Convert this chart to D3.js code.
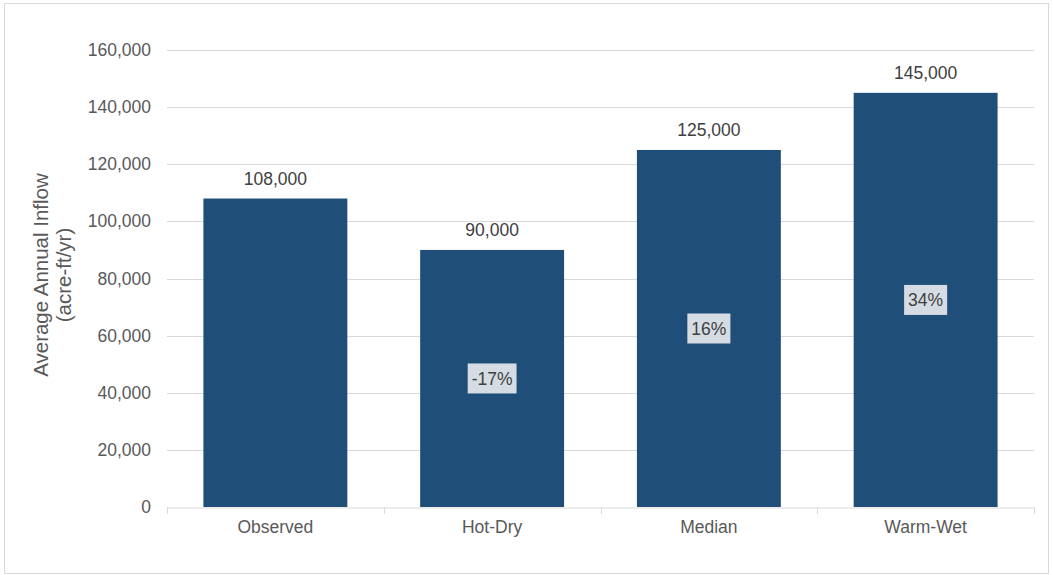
<!DOCTYPE html>
<html>
<head>
<meta charset="utf-8">
<script src="https://cdn.jsdelivr.net/npm/d3@7"></script>
<style>
  body { margin: 0; background: #fff; }
  svg { display: block; font-family: "Liberation Sans", Arial, sans-serif; }
</style>
</head>
<body>
<div id="chart"></div>
<script>
const categories = ["Observed", "Hot-Dry", "Median", "Warm-Wet"];
const inflow = [108000, 90000, 125000, 145000];
const changeLabels = [null, "-17%", "16%", "34%"];
const yTicks = [0, 20000, 40000, 60000, 80000, 100000, 120000, 140000, 160000];

const width = 1053, height = 575;
const margin = { top: 50, right: 19, bottom: 68, left: 167 };

const svg = d3.select("#chart").append("svg")
  .attr("width", width)
  .attr("height", height);

// outer frame
svg.append("rect")
  .attr("x", 4.5).attr("y", 3.5)
  .attr("width", 1044).attr("height", 570)
  .attr("fill", "#fff")
  .attr("stroke", "#d9d9d9");

const x = d3.scaleBand()
  .domain(categories)
  .range([margin.left, width - margin.right])
  .paddingInner(0.336)
  .paddingOuter(0.168);

const y = d3.scaleLinear()
  .domain([0, 160000])
  .range([height - margin.bottom, margin.top]);

const fmt = d3.format(",");

// gridlines
svg.append("g")
  .selectAll("line")
  .data(yTicks.filter(d => d > 0))
  .join("line")
  .attr("x1", margin.left).attr("x2", width - margin.right)
  .attr("y1", d => Math.round(y(d)) + 0.5).attr("y2", d => Math.round(y(d)) + 0.5)
  .attr("stroke", "#d9d9d9");

// y axis labels
const yAxis = svg.append("g")
  .attr("transform", `translate(${margin.left},0)`)
  .call(d3.axisLeft(y).tickValues(yTicks).tickFormat(fmt).tickSize(0).tickPadding(16));
yAxis.select(".domain").remove();
yAxis.selectAll("text")
  .attr("fill", "#595959")
  .style("font-size", "17.5px")
  .style("font-family", "Liberation Sans, Arial, sans-serif");

// bars
svg.append("g")
  .selectAll("rect")
  .data(categories)
  .join("rect")
  .attr("x", d => x(d))
  .attr("width", x.bandwidth())
  .attr("y", (d, i) => y(inflow[i]))
  .attr("height", (d, i) => y(0) - y(inflow[i]))
  .attr("fill", "#1f4e79");

// x axis
const xAxis = svg.append("g")
  .attr("transform", `translate(0,${Math.round(y(0)) + 0.5})`)
  .call(d3.axisBottom(x).tickSize(0).tickPadding(13));
xAxis.select(".domain").attr("stroke", "#d9d9d9");
xAxis.selectAll("text")
  .attr("fill", "#595959")
  .style("font-size", "17.5px")
  .style("font-family", "Liberation Sans, Arial, sans-serif");

// tick marks on band edges
const edges = d3.range(categories.length + 1).map(i => margin.left + i * (width - margin.right - margin.left) / categories.length);
svg.append("g")
  .selectAll("line")
  .data(edges)
  .join("line")
  .attr("x1", d => Math.round(d) + 0.5).attr("x2", d => Math.round(d) + 0.5)
  .attr("y1", Math.round(y(0))).attr("y2", Math.round(y(0)) + 7)
  .attr("stroke", "#d9d9d9");

// value labels
svg.append("g")
  .selectAll("text")
  .data(categories)
  .join("text")
  .attr("x", d => x(d) + x.bandwidth() / 2)
  .attr("y", (d, i) => y(inflow[i]) - 14)
  .attr("text-anchor", "middle")
  .attr("fill", "#404040")
  .style("font-size", "17.5px")
  .text((d, i) => fmt(inflow[i]));

// percent change labels
const pct = svg.append("g")
  .selectAll("g")
  .data(categories.map((c, i) => ({ c, v: inflow[i], label: changeLabels[i] })).filter(d => d.label))
  .join("g")
  .attr("transform", d => `translate(${x(d.c) + x.bandwidth() / 2},${y(d.v / 2)})`);

pct.append("text")
  .attr("text-anchor", "middle")
  .attr("dy", "0.35em")
  .attr("fill", "#404040")
  .style("font-size", "17.5px")
  .text(d => d.label)
  .each(function () {
    const b = this.getBBox();
    d3.select(this.parentNode).insert("rect", "text")
      .attr("x", b.x - 4).attr("y", -15)
      .attr("width", b.width + 8).attr("height", 30)
      .attr("fill", "#d6dce4");
  });

// y axis title
svg.append("text")
  .attr("transform", "translate(48,275) rotate(-90)")
  .attr("text-anchor", "middle")
  .attr("fill", "#595959")
  .style("font-size", "20.5px")
  .selectAll("tspan")
  .data(["Average Annual Inflow", "(acre-ft/yr)"])
  .join("tspan")
  .attr("x", 0)
  .attr("dy", (d, i) => i === 0 ? 0 : "1.1em")
  .text(d => d);
</script>
</body>
</html>
